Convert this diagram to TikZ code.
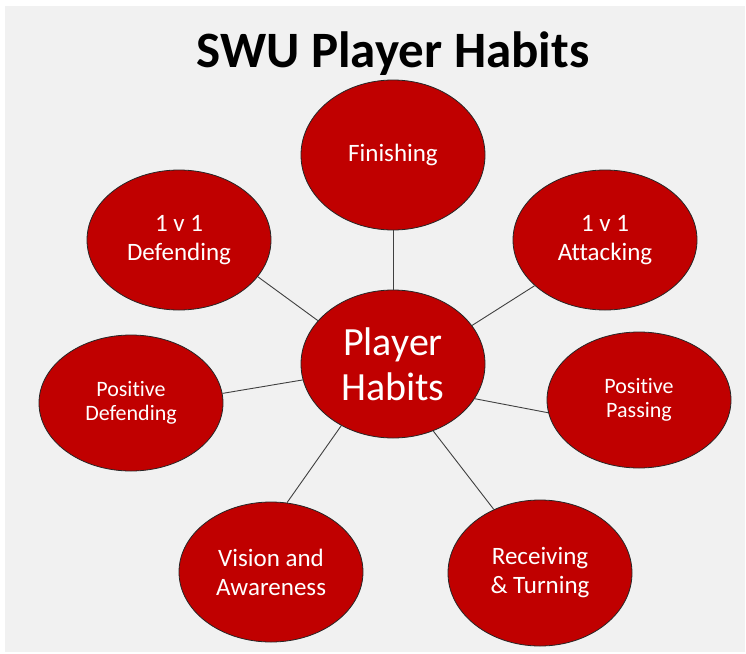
\documentclass[tikz,border=0pt]{standalone}
\usepackage{fontspec}
\setmainfont{Carlito}[Ligatures=NoCommon]
\usetikzlibrary{shapes.geometric}

\definecolor{habitred}{HTML}{C00000}
\definecolor{panelgray}{HTML}{F1F1F1}

\tikzset{
  habit/.style={ellipse, draw=black!85, line width=0.8pt, fill=habitred,
    text=white, align=center, inner sep=0pt,
    minimum width=184pt, minimum height=140pt,
    font=\fontsize{25}{29}\selectfont},
  smallhabit/.style={habit, font=\fontsize{22}{24}\selectfont},
  spoke/.style={draw=black!75, line width=0.9pt}
}

\begin{document}
\begin{tikzpicture}[x=1pt,y=-1pt]
\useasboundingbox (0,0) rectangle (746,653);
\fill[white] (0,0) rectangle (746,653);
\fill[panelgray] (5,6) rectangle (745,652);

\node[anchor=base, font=\fontsize{51}{60}\selectfont\bfseries] (title) at (393,67) {SWU Player Habits};

\node[habit, minimum height=148pt, font=\fontsize{40}{45}\selectfont] (hub) at (393,364) {Player\\Habits};

\node[habit, minimum height=150pt] (finishing) at (393,155) {Finishing};
\node[habit] (defend) at (179,240) {1 v 1\\Defending};
\node[habit] (attack) at (605,240) {1 v 1\\Attacking};
\node[smallhabit, minimum height=136pt] (posdef) at (131,403) {Positive\\Defending};
\node[smallhabit, minimum height=136pt] (pospass) at (639,400) {Positive\\Passing};
\node[habit] (vision) at (271,572) {Vision and\\Awareness};
\node[habit, minimum height=146pt] (receive) at (540,573) {Receiving\\\& Turning};

\foreach \a/\n/\b in {90/finishing/270, 150/defend/335, 26/attack/213,
    190/posdef/6, 337/pospass/188, 230/vision/77, 301/receive/126}
  \draw[spoke] (hub.\a) -- (\n.\b);
\end{tikzpicture}
\end{document}
